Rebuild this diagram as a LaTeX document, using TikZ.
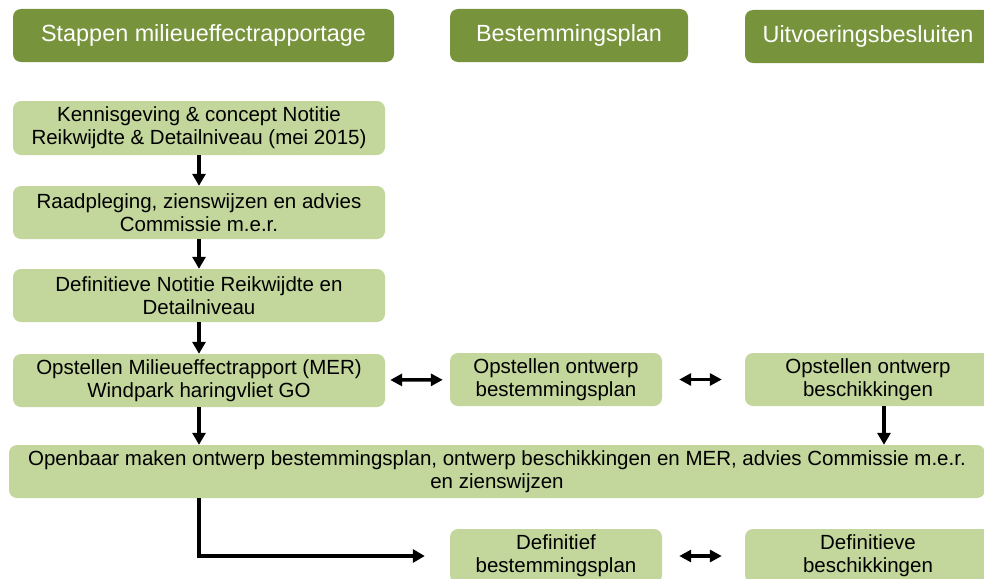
\documentclass[tikz,border=0pt]{standalone}
\usepackage{fontspec}
\setmainfont{Liberation Sans}
\usepackage{xcolor}
\usetikzlibrary{arrows.meta, positioning, calc}
\definecolor{darkgreen}{HTML}{77933C}
\definecolor{lightgreen}{HTML}{C3D69B}
\tikzset{
    baseblock/.style={rectangle, rounded corners=8pt, text centered, align=center, inner sep=2pt},
    headblock/.style={baseblock, fill=darkgreen, text=white, font=\fontsize{23.4}{27}\selectfont, minimum height=53pt},
    stepblock/.style={baseblock, fill=lightgreen, text=black, font=\fontsize{20.5}{23}\selectfont, minimum height=53pt},
    arrow/.style={line width=3.5pt, -{Triangle[length=12pt,width=13pt]}, color=black},
    dblarrow/.style={line width=3.5pt, {Triangle[length=12pt,width=12pt]}-{Triangle[length=12pt,width=12pt]}, color=black}
}

\begin{document}
\begin{tikzpicture}[x=1pt, y=-1pt]
    \clip (0,0) rectangle (984,578);
    % Nodes
    \node (hdrmer) [headblock, minimum width=381pt] at (203.5,35.5) {Stappen milieueffectrapportage};
    \node (hdrbp) [headblock, minimum width=238pt] at (569,35.5) {Bestemmingsplan};
    \node (hdrub) [headblock, minimum width=246pt] at (868,36.5) {Uitvoeringsbesluiten};

    \node (kennis) [stepblock, minimum width=372pt, minimum height=54pt] at (199,128) {Kennisgeving \& concept Notitie\\Reikwijdte \& Detailniveau (mei 2015)};
    \node (raad) [stepblock, minimum width=372pt] at (199,212.5) {Raadpleging, zienswijzen en advies\\Commissie m.e.r.};
    \node (defnot) [stepblock, minimum width=372pt] at (199,295.5) {Definitieve Notitie Reikwijdte en\\Detailniveau};
    \node (opmer) [stepblock, minimum width=372pt] at (199,380.5) {Opstellen Milieueffectrapport (MER)\\Windpark haringvliet GO};
    \node (opbp) [stepblock, minimum width=212pt] at (556,379.5) {Opstellen ontwerp\\bestemmingsplan};
    \node (opbs) [stepblock, minimum width=246pt] at (868,379.5) {Opstellen ontwerp\\beschikkingen};

    \node (openbaar) [stepblock, minimum width=976pt] at (497,471.5) {Openbaar maken ontwerp bestemmingsplan, ontwerp beschikkingen en MER, advies Commissie m.e.r.\\en zienswijzen};

    \node (defbp) [stepblock, minimum width=212pt, minimum height=54pt] at (556,556) {Definitief\\bestemmingsplan};
    \node (defbs) [stepblock, minimum width=246pt, minimum height=54pt] at (868,556) {Definitieve\\beschikkingen};

    % Arrows
    \draw [arrow] (kennis) -- (raad);
    \draw [arrow] (raad) -- (defnot);
    \draw [arrow] (defnot) -- (opmer);
    \draw [dblarrow, shorten <=5pt, shorten >=7pt] (opmer) -- (opbp);
    \draw [dblarrow, shorten <=17pt, shorten >=23pt] (opbp) -- (opbs);
    \draw [arrow] (opmer) -- (opmer |- openbaar.north);
    \draw [arrow] ([xshift=16pt]opbs.south) -- ([xshift=16pt]opbs.south |- openbaar.north);
    \draw [arrow] (opmer |- openbaar.south) |- ([xshift=-25pt]defbp.west);
    \draw [dblarrow, shorten <=17pt, shorten >=23pt] (defbp) -- (defbs);
\end{tikzpicture}
\end{document}
